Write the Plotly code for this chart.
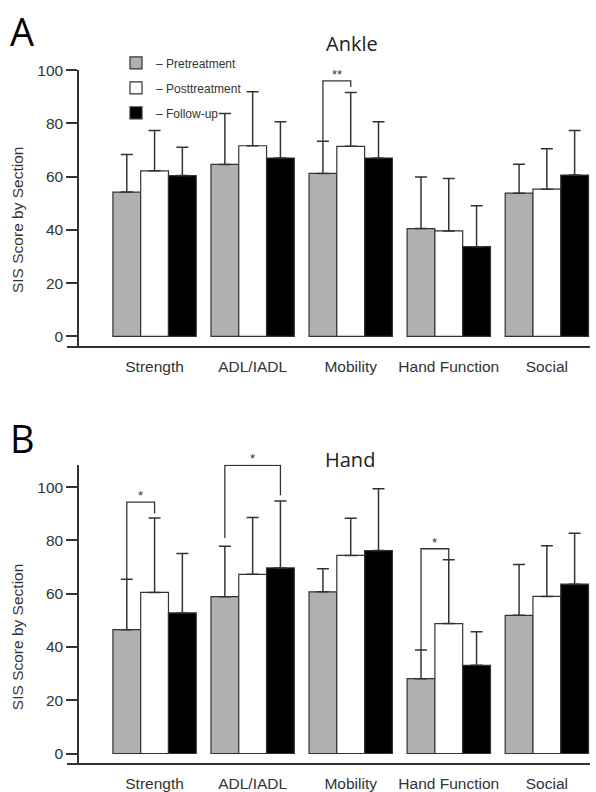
import plotly.graph_objects as go

# ---------------- data ----------------
categories = ["Strength", "ADL/IADL", "Mobility", "Hand Function", "Social"]
series_names = ["Pretreatment", "Posttreatment", "Follow-up"]

ankle_pre = [54.2, 64.6, 61.2, 40.5, 53.8]
ankle_pre_err = [14.1, 19.1, 12.1, 19.4, 10.9]
ankle_post = [62.2, 71.6, 71.4, 39.6, 55.3]
ankle_post_err = [15.1, 20.3, 20.2, 19.7, 15.2]
ankle_fu = [60.4, 67.0, 67.0, 33.7, 60.6]
ankle_fu_err = [10.6, 13.6, 13.6, 15.4, 16.7]

hand_pre = [46.5, 58.9, 60.7, 28.1, 51.9]
hand_pre_err = [18.9, 18.9, 8.7, 10.8, 19.1]
hand_post = [60.5, 67.3, 74.4, 48.8, 59.0]
hand_post_err = [27.9, 21.3, 13.9, 24.0, 19.0]
hand_fu = [52.8, 69.7, 76.2, 33.1, 63.6]
hand_fu_err = [22.3, 25.1, 23.2, 12.6, 19.1]

# significance brackets: (category index, from series, to series, bracket top, left end, right end, label)
ankle_sig = [(2, 0, 1, 96.0, 73.3, 93.7, "**")]
hand_sig = [(0, 0, 1, 94.4, 65.4, 90.1, "*"),
            (1, 0, 2, 108.2, 80.9, 97.0, "*"),
            (3, 0, 1, 76.9, 38.9, 72.8, "*")]

y_ticks = [0, 20, 40, 60, 80, 100]

# ---------------- style ----------------
W, H = 596, 792
fills = ["#b0b0b0", "#ffffff", "#000000"]
edge = "#333333"
txt = "#333333"
bargap = 0.15
bar_w = (1 - bargap) / 3

def px_x(p):
    return p / W

def px_y(p):
    return 1 - p / H

fig = go.Figure()

panels = [
    ("x", "y", [ankle_pre, ankle_post, ankle_fu], [ankle_pre_err, ankle_post_err, ankle_fu_err], True),
    ("x2", "y2", [hand_pre, hand_post, hand_fu], [hand_pre_err, hand_post_err, hand_fu_err], False),
]
xs = list(range(len(categories)))

for xa, ya, vals, errs, show in panels:
    for k in range(3):
        fig.add_trace(go.Bar(
            x=xs, y=vals[k], name="\u2013 " + series_names[k],
            xaxis=xa, yaxis=ya,
            marker=dict(color=fills[k], line=dict(color=edge, width=1.2)),
            error_y=dict(type="data", symmetric=False, array=errs[k],
                         arrayminus=[0] * len(xs), color=edge, thickness=1.5, width=6),
            showlegend=show, legendgroup="g%d" % k,
            hoverinfo="skip",
        ))

def add_brackets(sig, xa, ya):
    for (ci, a, b, top, a_end, b_end, label) in sig:
        xa_c = ci + (a - 1) * bar_w
        xb_c = ci + (b - 1) * bar_w
        fig.add_trace(go.Scatter(
            x=[xa_c, xa_c, xb_c, xb_c], y=[a_end, top, top, b_end],
            mode="lines", line=dict(color=edge, width=1.3),
            xaxis=xa, yaxis=ya, showlegend=False, hoverinfo="skip"))
        fig.add_annotation(x=(xa_c + xb_c) / 2, y=top, xref=xa, yref=ya,
                           text=label, showarrow=False, yanchor="bottom", yshift=-3,
                           font=dict(family="Liberation Sans", size=13, color=txt))

add_brackets(ankle_sig, "x", "y")
add_brackets(hand_sig, "x2", "y2")

x_dom = [px_x(67), px_x(590)]
xr = [-0.893, 4.44]
axis_font = dict(family="Liberation Sans", size=15.5, color=txt)

common_x = dict(domain=x_dom, range=xr, tickvals=xs, ticktext=categories,
                showline=True, linecolor=edge, linewidth=1.5, ticks="outside",
                ticklen=5, tickcolor="rgba(0,0,0,0)", showgrid=False,
                zeroline=False, tickfont=axis_font, fixedrange=True)
common_y = dict(anchor="free", position=px_x(78), tickvals=y_ticks,
                showline=True, linecolor=edge, linewidth=1.5, ticks="outside",
                ticklen=11, tickwidth=1.5, tickcolor=edge, showgrid=False,
                zeroline=False, tickfont=axis_font, fixedrange=True)

fig.update_layout(
    width=W, height=H,
    margin=dict(l=0, r=0, t=0, b=0),
    paper_bgcolor="white", plot_bgcolor="white",
    barmode="group", bargap=bargap, bargroupgap=0,
    xaxis=dict(anchor="y", **common_x),
    xaxis2=dict(anchor="y2", **common_x),
    yaxis=dict(domain=[px_y(342), px_y(62)], range=[-3.7, 100], **common_y),
    yaxis2=dict(domain=[px_y(765), px_y(462)], range=[-3.7, 108.5], **common_y),
    legend=dict(x=px_x(116), y=px_y(40), xanchor="left", yanchor="top",
                font=dict(family="Liberation Sans", size=12, color=txt),
                bgcolor="rgba(0,0,0,0)", tracegroupgap=6, traceorder="grouped"),
    showlegend=True,
)

# titles and panel letters
fig.add_annotation(text="A", x=px_x(8), y=px_y(22), xref="paper", yref="paper",
                   xanchor="left", yanchor="middle", showarrow=False,
                   font=dict(family="Open Sans", size=38, color="#000"))
fig.add_annotation(text="B", x=px_x(8), y=px_y(435), xref="paper", yref="paper",
                   xanchor="left", yanchor="middle", showarrow=False,
                   font=dict(family="Open Sans", size=38, color="#000"))
fig.add_annotation(text="Ankle", x=px_x(352), y=px_y(35), xref="paper", yref="paper",
                   xanchor="center", yanchor="middle", showarrow=False,
                   font=dict(family="Open Sans", size=20, color="#222"))
fig.add_annotation(text="Hand", x=px_x(350), y=px_y(457), xref="paper", yref="paper",
                   xanchor="center", yanchor="middle", showarrow=False,
                   font=dict(family="Open Sans", size=20, color="#222"))
for yc in (214, 637):
    fig.add_annotation(text="SIS Score by Section", x=px_x(17), y=px_y(yc),
                       xref="paper", yref="paper", textangle=-90,
                       xanchor="center", yanchor="middle", showarrow=False,
                       font=dict(family="Liberation Sans", size=15.5, color=txt))

fig.write_html("out.html", config={"displayModeBar": False},
               post_script="document.body.style.margin='0';")
